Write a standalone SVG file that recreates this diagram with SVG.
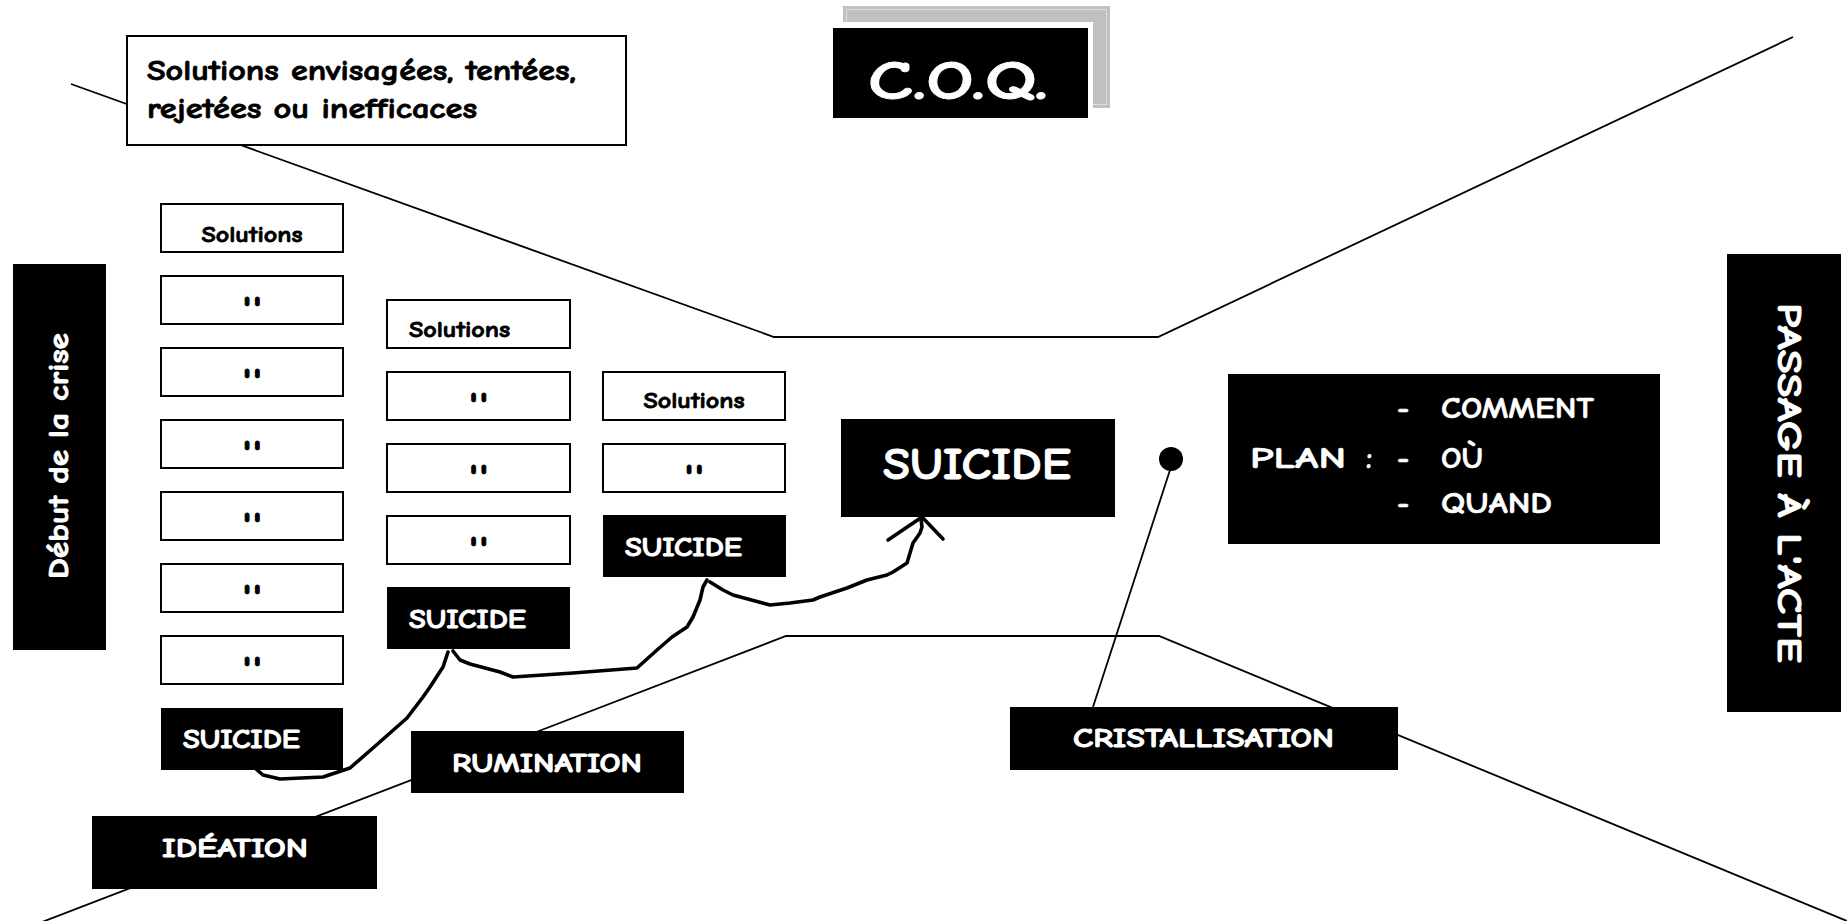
<svg xmlns="http://www.w3.org/2000/svg" width="1847" height="921" viewBox="0 0 1847 921">
<style>
  .bg { fill: #ffffff; }
  .wbox { fill: #ffffff; stroke: #000000; stroke-width: 2; }
  .t { font-family: "Comic Sans MS", "Comic Neue", "DejaVu Sans", sans-serif; }
  .dark { fill: #000000; font-weight: bold; stroke: #000000; stroke-width: 0.8; }
  .light { fill: #ffffff; stroke: #ffffff; stroke-width: 0.6; }
  .b { font-weight: bold; stroke-width: 0.9; }
  .q { font-size: 40px; stroke-width: 1; letter-spacing: 2px; }
  .line { fill: none; stroke: #000000; stroke-width: 1.8; }
  .curve { fill: none; stroke: #000000; stroke-width: 3.6; stroke-linecap: round; stroke-linejoin: round; }
</style>
<rect class="bg" x="0" y="0" width="1847" height="921"/>

<g id="connectors">
  <polyline class="line" points="71,84 774,337 1158,337 1793,37"/>
  <polyline class="line" points="42,922 786,636 1159,636 1847,921"/>
  <line class="line" x1="1170" y1="470" x2="1093" y2="707"/>
  <circle cx="1171" cy="459" r="12" fill="#000000"/>
  <path class="curve" d="M256,769 L263,775 L280,779 L323,777 L350,768 L373,748 L390,733 L407,718 L423,697 L430,687 L443,667 L448,652"/>
  <path class="curve" d="M453,651 L460,660 L470,664 L500,672 L513,677 L573,673 L637,668 L657,650 L672,637 L687,627 L693,617 L700,600 L703,587 L707,580"/>
  <path class="curve" d="M710,582 L723,590 L733,595 L770,605 L790,603 L813,600 L820,597 L847,588 L867,580 L887,575 L893,572 L907,563 L910,553 L913,543 L920,533 L922,527 L921,519"/>
  <polyline class="curve" points="888,540 922,517 943,539"/>
</g>

<g id="node-solutions-envisagees">
  <rect class="wbox" x="127" y="36" width="499" height="109"/>
  <text class="t dark" x="147" y="80" font-size="29" textLength="429" lengthAdjust="spacingAndGlyphs">Solutions envisagées, tentées,</text>
  <text class="t dark" x="147" y="118" font-size="29" textLength="330" lengthAdjust="spacingAndGlyphs">rejetées ou inefficaces</text>
</g>

<g id="node-coq">
  <rect x="843" y="6" width="267" height="102" fill="#c0c0c0"/>
  <rect x="846.5" y="9.5" width="260" height="95" fill="none" stroke="#dddddd" stroke-width="1"/>
  <rect x="828" y="22" width="265" height="101" fill="#ffffff"/>
  <rect x="833" y="28" width="255" height="90" fill="#000000"/>
  <text class="t light b" x="868" y="99" font-size="54" stroke-width="1.2" textLength="180" lengthAdjust="spacingAndGlyphs">C.O.Q.</text>
</g>

<g id="node-debut">
  <rect x="13" y="264" width="93" height="386" fill="#000000"/>
  <text class="t light b" transform="translate(68,456) rotate(-90)" x="0" y="0" font-size="29" text-anchor="middle" textLength="246" lengthAdjust="spacingAndGlyphs">Début de la crise</text>
</g>

<g id="node-passage">
  <rect x="1727" y="254" width="114" height="458" fill="#000000"/>
  <text class="t light b" transform="translate(1778,483) rotate(90)" x="0" y="0" font-size="34" text-anchor="middle" textLength="360" lengthAdjust="spacingAndGlyphs">PASSAGE À L'ACTE</text>
</g>

<g id="col1">
  <g id="c1-solutions"><rect class="wbox" x="161" y="204" width="182" height="48"/><text class="t dark" x="252" y="242" font-size="23" text-anchor="middle" textLength="101" lengthAdjust="spacingAndGlyphs">Solutions</text></g>
  <g id="c1-q1"><rect class="wbox" x="161" y="276" width="182" height="48"/><text class="t dark q" x="253" y="324" text-anchor="middle">''</text></g>
  <g id="c1-q2"><rect class="wbox" x="161" y="348" width="182" height="48"/><text class="t dark q" x="253" y="396" text-anchor="middle">''</text></g>
  <g id="c1-q3"><rect class="wbox" x="161" y="420" width="182" height="48"/><text class="t dark q" x="253" y="468" text-anchor="middle">''</text></g>
  <g id="c1-q4"><rect class="wbox" x="161" y="492" width="182" height="48"/><text class="t dark q" x="253" y="540" text-anchor="middle">''</text></g>
  <g id="c1-q5"><rect class="wbox" x="161" y="564" width="182" height="48"/><text class="t dark q" x="253" y="612" text-anchor="middle">''</text></g>
  <g id="c1-q6"><rect class="wbox" x="161" y="636" width="182" height="48"/><text class="t dark q" x="253" y="684" text-anchor="middle">''</text></g>
  <g id="c1-suicide"><rect x="161" y="708" width="182" height="62" fill="#000000"/><text class="t light b" x="183" y="748" font-size="26" textLength="117" lengthAdjust="spacingAndGlyphs">SUICIDE</text></g>
</g>

<g id="col2">
  <g id="c2-solutions"><rect class="wbox" x="387" y="300" width="183" height="48"/><text class="t dark" x="409" y="337" font-size="23" textLength="101" lengthAdjust="spacingAndGlyphs">Solutions</text></g>
  <g id="c2-q1"><rect class="wbox" x="387" y="372" width="183" height="48"/><text class="t dark q" x="479.5" y="420" text-anchor="middle">''</text></g>
  <g id="c2-q2"><rect class="wbox" x="387" y="444" width="183" height="48"/><text class="t dark q" x="479.5" y="492" text-anchor="middle">''</text></g>
  <g id="c2-q3"><rect class="wbox" x="387" y="516" width="183" height="48"/><text class="t dark q" x="479.5" y="564" text-anchor="middle">''</text></g>
  <g id="c2-suicide"><rect x="387" y="587" width="183" height="62" fill="#000000"/><text class="t light b" x="409" y="628" font-size="26" textLength="117" lengthAdjust="spacingAndGlyphs">SUICIDE</text></g>
</g>

<g id="col3">
  <g id="c3-solutions"><rect class="wbox" x="603" y="372" width="182" height="48"/><text class="t dark" x="694" y="408" font-size="23" text-anchor="middle" textLength="101" lengthAdjust="spacingAndGlyphs">Solutions</text></g>
  <g id="c3-q1"><rect class="wbox" x="603" y="444" width="182" height="48"/><text class="t dark q" x="695" y="492" text-anchor="middle">''</text></g>
  <g id="c3-suicide"><rect x="603" y="515" width="183" height="62" fill="#000000"/><text class="t light b" x="625" y="556" font-size="26" textLength="117" lengthAdjust="spacingAndGlyphs">SUICIDE</text></g>
</g>

<g id="node-suicide-main">
  <rect x="841" y="419" width="274" height="98" fill="#000000"/>
  <text class="t light b" x="883" y="479" font-size="44" stroke-width="1.2" textLength="188" lengthAdjust="spacingAndGlyphs">SUICIDE</text>
</g>

<g id="node-plan">
  <rect x="1228" y="374" width="432" height="170" fill="#000000"/>
  <text class="t light" x="1397" y="418" font-size="30" font-weight="bold">-</text>
  <text class="t light" x="1441" y="418" font-size="30" font-weight="bold" textLength="153" lengthAdjust="spacingAndGlyphs">COMMENT</text>
  <text class="t light" x="1250" y="468" font-size="30" font-weight="bold" textLength="96" lengthAdjust="spacingAndGlyphs">PLAN</text>
  <text class="t light" x="1366" y="468" font-size="30" font-weight="bold">:</text>
  <text class="t light" x="1397" y="468" font-size="30" font-weight="bold">-</text>
  <text class="t light" x="1441" y="468" font-size="30" font-weight="bold" textLength="42" lengthAdjust="spacingAndGlyphs">OÙ</text>
  <text class="t light" x="1397" y="513" font-size="30" font-weight="bold">-</text>
  <text class="t light" x="1441" y="513" font-size="30" font-weight="bold" textLength="111" lengthAdjust="spacingAndGlyphs">QUAND</text>
</g>

<g id="node-cristallisation">
  <rect x="1010" y="707" width="388" height="63" fill="#000000"/>
  <text class="t light b" x="1073" y="747" font-size="26" textLength="261" lengthAdjust="spacingAndGlyphs">CRISTALLISATION</text>
</g>

<g id="node-rumination">
  <rect x="411" y="731" width="273" height="62" fill="#000000"/>
  <text class="t light b" x="452" y="772" font-size="26" textLength="190" lengthAdjust="spacingAndGlyphs">RUMINATION</text>
</g>

<g id="node-ideation">
  <rect x="92" y="816" width="285" height="73" fill="#000000"/>
  <text class="t light b" x="162" y="857" font-size="26" textLength="146" lengthAdjust="spacingAndGlyphs">IDÉATION</text>
</g>
</svg>
